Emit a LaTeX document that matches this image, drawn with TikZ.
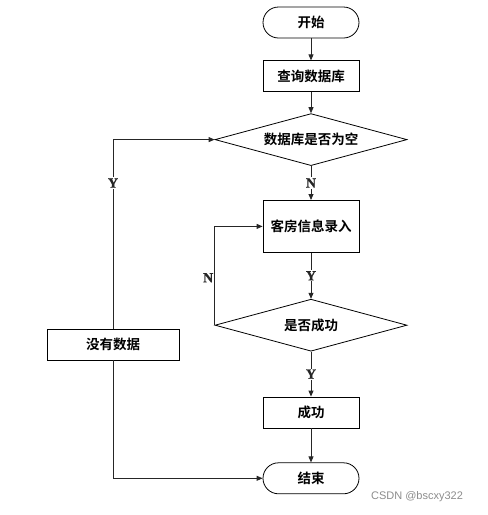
\documentclass[tikz,border=0pt]{standalone}
\usepackage{fontspec}
\usepackage{tikz}
\usetikzlibrary{positioning,arrows.meta,shapes.geometric}
\newfontfamily\cjk{Noto Sans CJK SC Bold}
\newfontfamily\ynfont[FakeBold=1.2]{Liberation Serif Bold}
\newfontfamily\markfont{Liberation Sans}

\begin{document}
\begin{tikzpicture}[
			x=1pt,y=1pt,
			node distance=22pt,
			every node/.style={
				align=center,
				font=\cjk\fontsize{13.5}{15}\selectfont
			},
			box/.style={draw,line width=0.8pt,minimum width=96pt,minimum height=31pt,inner sep=0pt},
			terminal/.style={box,rounded corners=15.5pt},
			decision/.style={draw,line width=0.8pt,diamond,aspect=3.7,minimum width=192pt,minimum height=52pt,inner sep=0pt},
			yn/.style={font=\ynfont\fontsize{14}{16}\selectfont,fill=white,inner sep=1pt},
			arrow/.style={-{Triangle[length=6pt,width=5pt]},line width=0.8pt,black!85}
			]
			
			\useasboundingbox (0,0) rectangle (488,-515);
			
			\node[terminal] (start) at (311,-22.5) {开始};
			\node[box,below=22pt of start] (query) {查询数据库};
			\node[decision,below=21pt of query] (empty) {数据库是否为空};
			\node[box,minimum height=52pt,below=34pt of empty] (input) {客房信息录入};
			\node[decision,below=46pt of input] (ok) {是否成功};
			\node[box,below=45pt of ok] (done) {成功};
			\node[terminal,below=34pt of done] (stop) {结束};
			\node[box,minimum width=132pt] (nodata) at (113,-344.5) {没有数据};
			
			\draw[arrow] (start) -- (query);
			\draw[arrow] (query) -- (empty);
			\draw[arrow] (empty) -- node[yn] {N} (input);
			\draw[arrow] (input) -- node[yn] {Y} (ok);
			\draw[arrow] (ok) -- node[yn] {Y} (done);
			\draw[arrow] (done) -- (stop);
			\draw[arrow] (ok.west) -- node[yn,left,fill=none,pos=0.48] {N} (ok.west |- input) -- (input.west);
			\draw[arrow] (nodata.north) -- node[yn,pos=0.77] {Y} (nodata.north |- empty) -- (empty.west);
			\draw[arrow] (nodata.south) |- (stop.west);
			
			\node[font=\markfont\fontsize{11}{13}\selectfont,text=black!45] (mark) at (417,-497) {CSDN @bscxy322};
			
		\end{tikzpicture}
\end{document}
